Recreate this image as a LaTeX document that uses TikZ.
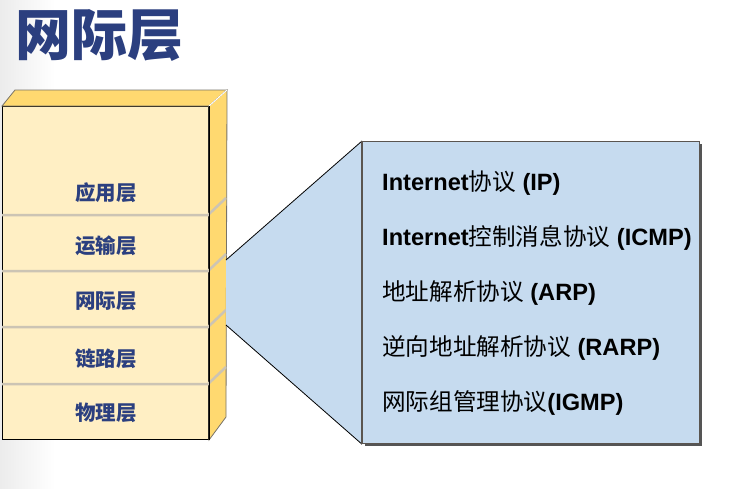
\documentclass[tikz,border=0pt]{standalone}
\usepackage{fontspec}
\setmainfont{Liberation Sans}
\newfontfamily\cjk{Noto Sans CJK SC}
\definecolor{titleblue}{RGB}{43,63,127}
\definecolor{frontc}{RGB}{255,239,196}
\definecolor{sidec}{RGB}{255,217,112}
\definecolor{divgray}{RGB}{204,196,180}
\definecolor{edgegray}{RGB}{120,115,105}
\definecolor{bluec}{RGB}{198,219,239}
\definecolor{boxedge}{RGB}{90,85,80}
\definecolor{shadowc}{RGB}{85,85,85}
\definecolor{bggray}{RGB}{236,236,236}
\begin{document}
\begin{tikzpicture}[x=1pt,y=-1pt,
  laylabel/.style={font=\cjk\bfseries\fontsize{20.5}{20.5}\selectfont, text=titleblue, anchor=base, inner sep=0pt},
  proto/.style={font=\fontsize{23.6}{23.6}\selectfont, anchor=base west, inner sep=0pt},
  divider/.style={draw=divgray, line width=2.5pt},
  face/.style={fill=sidec, draw=edgegray, line width=0.8pt}]
\useasboundingbox (0,0) rectangle (735,488);
\shade[left color=bggray, right color=white] (0,0) rectangle (55,488);
% title
\node[anchor=base west, inner sep=0pt, font=\cjk\bfseries\fontsize{56}{56}\selectfont, text=titleblue] (title) at (15,55) {网际层};
% stack
\node[draw=black, fill=frontc, line width=1pt, minimum width=206pt, minimum height=333pt, anchor=north west, inner sep=0pt] (stack) at (2,106) {};
\coordinate (tl) at (15,90);
\coordinate (tr) at (227,90);
\coordinate (br) at (226,417);
\filldraw[face] (stack.north west) -- (tl) -- (tr) -- (stack.north east) -- cycle;
\filldraw[face] (stack.north east) -- (tr) -- (br) -- (stack.south east) -- cycle;
\draw[white, line width=1pt] (stack.north east) -- (tr);
\foreach \y in {215,271,327,384} {
  \draw[divider] (2,\y) -- (208,\y) -- (226,\y-17);
}
\draw[black, line width=1pt] (stack.north east) -- (stack.south east);
% labels
\node[laylabel] (l1) at (106,200) {应用层};
\node[laylabel] (l2) at (106,253) {运输层};
\node[laylabel] (l3) at (106,308) {网际层};
\node[laylabel] (l4) at (106,366) {链路层};
\node[laylabel] (l5) at (106,420) {物理层};
% box and callout
\coordinate (tA) at (226,260);
\coordinate (tB) at (226,325);
\fill[shadowc] (365,144) rectangle (702,446);
\node[draw=boxedge, fill=bluec, line width=1.2pt, minimum width=337pt, minimum height=302pt, anchor=north west, inner sep=0pt] (box) at (362,141) {};
\fill[bluec] (tA) -- (box.north west) -- (box.south west) -- (tB) -- cycle;
\draw[black, line width=0.8pt] (tA) -- (box.north west);
\draw[black, line width=0.8pt] (tB) -- (box.south west);
\draw[boxedge, line width=1.2pt] (box.north west) -- (box.south west);
% protocols
\node[proto] (p1) at (382,190) {{\bfseries Internet}{\cjk 协议} {\bfseries (IP)}};
\node[proto] (p2) at (382,245) {{\bfseries Internet}{\cjk 控制消息协议} {\bfseries (ICMP)}};
\node[proto] (p3) at (382,300) {{\cjk 地址解析协议} {\bfseries (ARP)}};
\node[proto] (p4) at (382,355) {{\cjk 逆向地址解析协议} {\bfseries (RARP)}};
\node[proto] (p5) at (382,410) {{\cjk 网际组管理协议}{\bfseries (IGMP)}};
\end{tikzpicture}
\end{document}
